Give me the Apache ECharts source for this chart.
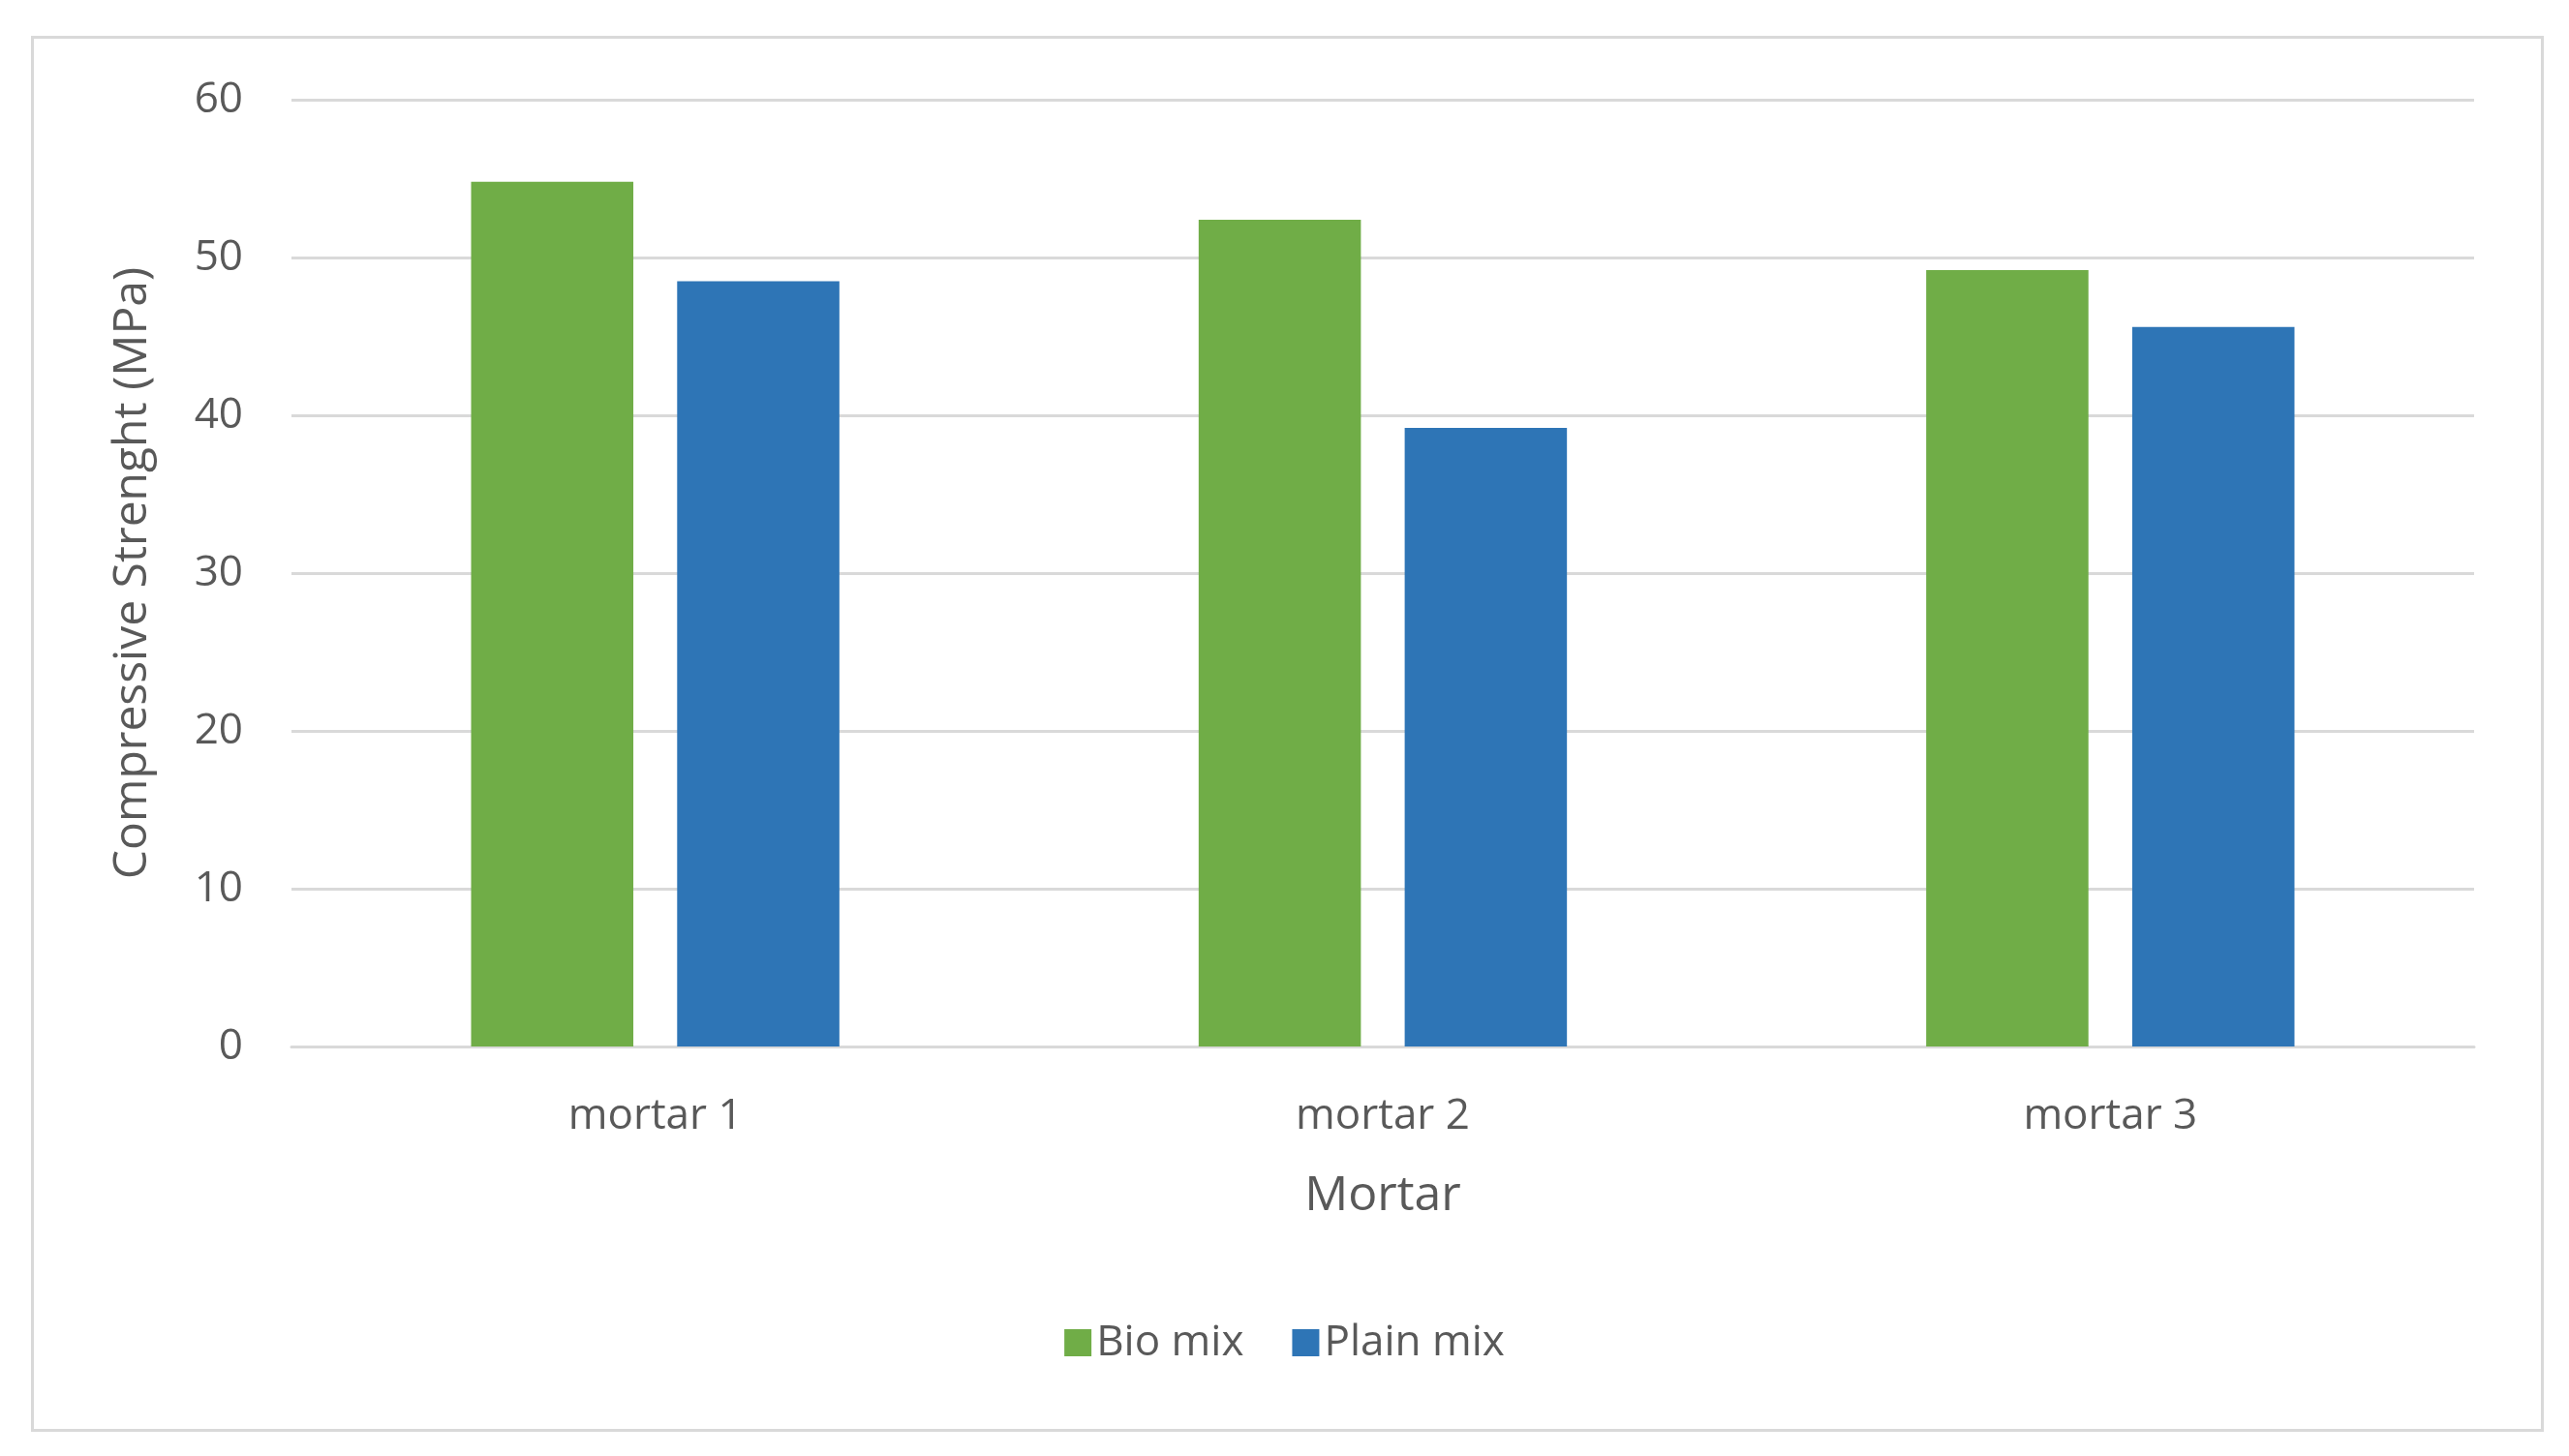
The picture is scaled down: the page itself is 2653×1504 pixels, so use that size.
<!DOCTYPE html>
<html>
<head>
<meta charset="utf-8">
<script src="https://cdn.jsdelivr.net/npm/echarts@6/dist/echarts.min.js"></script>
<style>
html,body{margin:0;padding:0;background:#fff;}
#frame{position:absolute;left:32px;top:37px;width:2589px;height:1436px;border:3px solid #d9d9d9;}
#chart{width:2653px;height:1504px;position:absolute;left:0;top:0;}
</style>
</head>
<body>
<div id="frame"></div>
<div id="chart"></div>
<script>
var categories = ['mortar 1', 'mortar 2', 'mortar 3'];
var bioMix = [54.8, 52.4, 49.2];
var plainMix = [48.5, 39.2, 45.6];

var font = 'Open Sans';
var chart = echarts.init(document.getElementById('chart'));
chart.setOption({
    animation: false,
    textStyle: { fontFamily: font },
    grid: { left: 301, right: 98, top: 103, bottom: 423 },
    legend: {
        bottom: 90,
        left: 'center',
        itemWidth: 28, itemHeight: 28, itemGap: 50,
        icon: 'rect',
        textStyle: { fontSize: 44, color: '#595959', fontFamily: font },
        data: ['Bio mix', 'Plain mix']
    },
    xAxis: {
        type: 'category',
        data: categories,
        name: 'Mortar',
        nameLocation: 'middle',
        nameGap: 130,
        nameTextStyle: { fontSize: 50, color: '#595959' },
        axisTick: { show: false },
        axisLine: { lineStyle: { color: '#d9d9d9', width: 3 } },
        axisLabel: { fontSize: 44, color: '#595959', margin: 50 }
    },
    yAxis: {
        type: 'value',
        min: 0, max: 60, interval: 10,
        name: 'Compressive Strenght (MPa)',
        nameLocation: 'middle',
        nameGap: 140,
        nameTextStyle: { fontSize: 48, color: '#595959' },
        axisLine: { show: false },
        axisTick: { show: false },
        splitLine: { lineStyle: { color: '#d9d9d9', width: 3 } },
        axisLabel: { fontSize: 44, color: '#595959', margin: 50 }
    },
    series: [
        { name: 'Bio mix', type: 'bar', data: bioMix, barWidth: '22.3%', barGap: '27%',
          itemStyle: { color: '#70ad47' } },
        { name: 'Plain mix', type: 'bar', data: plainMix, barWidth: '22.3%',
          itemStyle: { color: '#2e75b6' } }
    ]
});
</script>
</body>
</html>
